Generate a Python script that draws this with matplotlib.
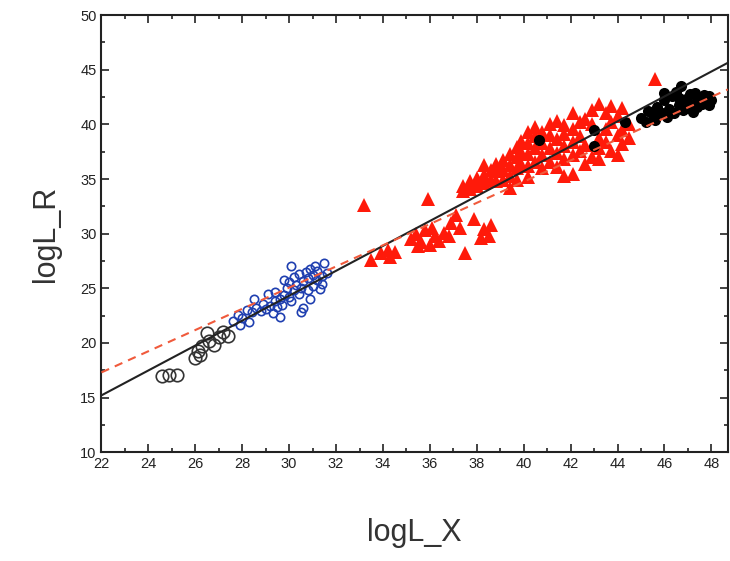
import matplotlib.pyplot as plt
from matplotlib.ticker import MultipleLocator

# open black circles
circ_x = [24.6, 24.9, 25.2, 26.0, 26.1, 26.2, 26.3, 26.5, 26.6, 26.8, 27.0, 27.2, 27.4]
circ_y = [17.0, 17.1, 17.1, 18.6, 19.3, 18.9, 19.7, 20.9, 20.2, 19.8, 20.5, 21.0, 20.6]

# blue open symbols
blue_x = [27.6, 27.8, 28.0, 28.2, 28.4, 28.6, 28.8, 28.9, 29.0, 29.2, 29.3, 29.4, 29.5,
          29.6, 29.7, 29.8, 29.9, 30.0, 30.0, 30.1, 30.2, 30.2, 30.3, 30.4, 30.4, 30.5,
          30.6, 30.6, 30.7, 30.8, 30.8, 30.9, 31.0, 31.0, 31.1, 31.2, 31.2, 31.3, 31.4,
          31.5, 31.6, 30.5, 29.1, 28.5, 27.9, 28.3, 29.6, 30.9, 31.4, 30.1, 29.8, 29.4]
blue_y = [22.0, 22.6, 22.3, 23.0, 22.8, 23.2, 22.9, 23.6, 23.1, 23.4, 22.7, 23.8, 23.3,
          24.0, 23.5, 24.4, 25.0, 24.2, 25.6, 23.8, 24.8, 26.0, 25.3, 24.5, 26.3, 25.0,
          23.2, 25.7, 26.5, 24.8, 25.9, 26.8, 25.2, 26.2, 27.0, 25.8, 26.6, 24.9, 26.1,
          27.3, 26.4, 22.8, 24.5, 24.0, 21.6, 21.9, 22.4, 24.0, 25.4, 27.0, 25.8, 24.7]

# red filled triangles
tri_x = [33.2, 35.9, 45.6, 33.5, 33.9, 34.2, 34.5, 34.3,
         35.2, 35.4, 35.6, 35.8, 36.0, 36.2, 36.4, 36.6, 35.5, 36.1,
         36.9, 36.8, 37.5, 38.3, 38.5, 38.2, 38.6, 37.3, 37.9, 37.1,
         37.4, 37.4, 37.7, 37.7, 38.0, 38.0, 38.3, 38.3, 38.3, 38.6, 38.6,
         38.8, 38.8, 38.8, 39.1, 39.1, 39.1, 39.4, 39.4, 39.4, 39.4,
         39.7, 39.7, 39.7, 39.7, 39.9, 39.9, 39.9,
         40.2, 40.2, 40.2, 40.2, 40.2, 40.5, 40.5, 40.5, 40.5,
         40.8, 40.8, 40.8, 40.8, 41.1, 41.1, 41.1, 41.1, 41.4, 41.4, 41.4, 41.4,
         41.7, 41.7, 41.7, 41.7, 41.7, 42.1, 42.1, 42.1, 42.1, 42.1,
         42.4, 42.4, 42.4, 42.6, 42.6, 42.6, 42.9, 42.9, 42.9,
         43.2, 43.2, 43.2, 43.2, 43.5, 43.5, 43.5, 43.7, 43.7, 43.7,
         44.0, 44.0, 44.0, 44.2, 44.2, 44.2, 44.5, 44.5]
tri_y = [32.6, 33.2, 44.2, 27.6, 28.2, 28.5, 28.3, 27.9,
         29.5, 30.0, 29.2, 30.3, 29.0, 29.8, 29.3, 30.1, 28.9, 30.5,
         31.0, 29.8, 28.2, 30.4, 29.8, 29.6, 30.8, 30.5, 31.3, 31.7,
         34.4, 33.9, 34.8, 34.1, 35.1, 34.4, 36.3, 35.4, 34.6, 35.8, 34.9,
         35.7, 34.8, 36.4, 36.7, 35.8, 34.9, 37.3, 36.3, 35.3, 34.2,
         37.9, 37.0, 36.0, 34.9, 38.5, 37.5, 36.4,
         39.3, 38.3, 37.3, 36.2, 35.2, 39.8, 38.9, 37.8, 36.6,
         39.3, 38.3, 37.2, 36.0, 40.0, 39.0, 37.8, 36.6, 40.3, 38.7, 37.4, 36.1,
         39.9, 39.1, 38.0, 36.8, 35.3, 41.0, 39.6, 38.4, 37.2, 35.5,
         40.2, 38.9, 37.6, 40.5, 36.4, 38.1, 41.3, 40.0, 37.0,
         41.9, 38.8, 36.8, 37.8, 41.0, 39.6, 38.4, 41.7, 37.6, 40.2,
         40.8, 39.0, 37.2, 41.5, 39.5, 38.2, 40.0, 38.8]

# black filled circles
dot_x = [40.65, 43.0, 43.0, 44.3, 45.0, 45.3, 45.5, 45.7, 45.9, 46.0, 46.2, 46.3,
         46.5, 46.6, 46.7, 46.9, 47.0, 47.1, 47.3, 47.4, 47.5, 47.6, 47.8, 47.9,
         48.0, 45.6, 46.1, 46.4, 46.8, 47.2, 47.7, 45.2, 46.0, 46.6, 47.3, 47.9]
dot_y = [38.6, 39.5, 38.0, 40.2, 40.6, 41.2, 40.9, 41.6, 41.0, 42.2, 41.4, 42.6,
         43.0, 41.8, 43.5, 42.3, 41.5, 42.8, 42.0, 41.6, 42.5, 41.9, 42.3, 41.8,
         42.2, 40.4, 40.7, 41.0, 41.3, 41.1, 42.7, 40.2, 42.9, 42.4, 42.9, 42.6]

# fitted lines (intercept at x=22, slope)
fit_solid = (15.2, 1.14)
fit_dash = (17.3, 0.97)

x_lim = (22, 48.7)
y_lim = (10, 50)


def main():
    plt.rcParams['font.family'] = ['Liberation Sans', 'DejaVu Sans']
    fig = plt.figure(figsize=(7.3, 5.61), dpi=100)
    ax = fig.add_axes([0.139, 0.194, 0.858, 0.779])

    ax.plot(circ_x, circ_y, 'o', mfc='none', mec='#333333', ms=9, mew=1.2, zorder=3)
    ax.plot(blue_x, blue_y, 'o', mfc='none', mec='#1f3fb0', ms=6, mew=1.2, zorder=3)
    ax.plot(tri_x, tri_y, '^', color='#ff1a0a', ms=10, mew=0, zorder=3)
    ax.plot(dot_x, dot_y, 'o', color='black', ms=8, mew=0, zorder=4)

    xs = list(x_lim)
    ax.plot(xs, [fit_solid[0] + fit_solid[1] * (v - 22) for v in xs],
            color='#222222', lw=1.5, zorder=5)
    ax.plot(xs, [fit_dash[0] + fit_dash[1] * (v - 22) for v in xs],
            color='#f05a3c', lw=1.5, ls=(0, (4, 3)), zorder=5)

    ax.set_xlim(*x_lim)
    ax.set_ylim(*y_lim)
    ax.xaxis.set_major_locator(MultipleLocator(2))
    ax.xaxis.set_minor_locator(MultipleLocator(1))
    ax.yaxis.set_major_locator(MultipleLocator(5))
    ax.yaxis.set_minor_locator(MultipleLocator(2.5))
    ax.tick_params(which='both', direction='in', top=True, right=True,
                   labelsize=10.5, width=1.2, colors='#222222')
    ax.tick_params(which='major', length=6)
    ax.tick_params(which='minor', length=3)
    for s in ax.spines.values():
        s.set_linewidth(1.5)
        s.set_color('#222222')

    ax.set_xlabel('logL_X', fontsize=22, color='#333333', labelpad=34)
    ax.set_ylabel('logL_R', fontsize=22, color='#333333', labelpad=14)

    fig.savefig('out.png', dpi=100)


if __name__ == "__main__":
    main()
